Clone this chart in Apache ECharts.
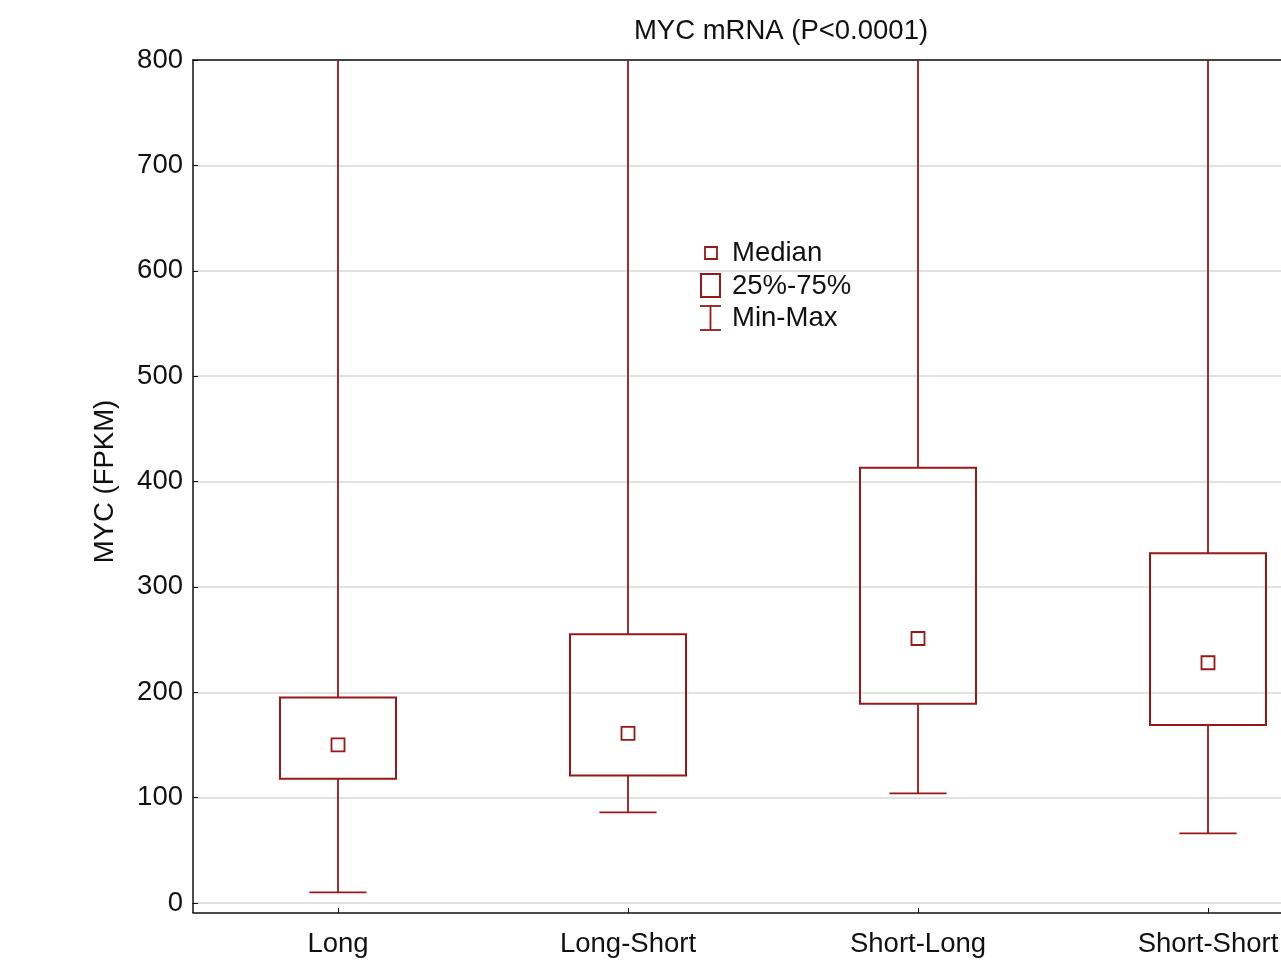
<!DOCTYPE html>
<html><head><meta charset="utf-8">
<script src="https://cdn.jsdelivr.net/npm/echarts@6/dist/echarts.min.js"></script>
<style>html,body{margin:0;padding:0;background:#fff}#c{width:1281px;height:960px}</style>
</head><body><div id="c"></div>
<script>
const categories = ['Long', 'Long-Short', 'Short-Long', 'Short-Short'];
const minValues = [10, 86, 104, 66];
const q1Values = [118, 121, 189, 169];
const medianValues = [150, 161, 251, 228];
const q3Values = [195, 255, 413, 332];
const maxValues = [1000, 1000, 1000, 1000]; // beyond the 800 axis top (clipped)
const yTicks = [0, 100, 200, 300, 400, 500, 600, 700, 800];

const RED = '#981818';
const FONT = 'Liberation Sans, Arial, sans-serif';
const FS = 27.5;

const boxData = categories.map((c, i) => [i, minValues[i], q1Values[i], medianValues[i], q3Values[i], maxValues[i]]);

const chart = echarts.init(document.getElementById('c'));
chart.setOption({
  backgroundColor: '#fff',
  animation: false,
  title: {
    text: 'MYC mRNA (P<0.0001)', left: 776, top: 12, textAlign: 'center',
    textStyle: { fontFamily: FONT, fontSize: FS, fontWeight: 'normal', color: '#111' }
  },
  grid: { left: 193, top: 60, right: -72, bottom: 57, outerBoundsMode: 'none', containLabel: false },
  xAxis: [{
    type: 'category', data: categories, offset: 10,
    axisLine: { onZero: false, lineStyle: { color: '#111', width: 1.5 } },
    axisTick: { show: true, inside: true, alignWithLabel: true, length: 5, lineStyle: { color: '#111' } },
    axisLabel: { fontFamily: FONT, fontSize: FS, color: '#111', margin: 17 },
    splitLine: { show: false }
  }, {
    type: 'category', data: categories, position: 'top',
    axisLine: { onZero: false, lineStyle: { color: '#111', width: 1.5 } },
    axisTick: { show: false }, axisLabel: { show: false }
  }],
  yAxis: {
    type: 'value', min: 0, max: 800, interval: 100,
    name: 'MYC (FPKM)', nameLocation: 'middle', nameGap: 74, nameRotate: 90,
    nameTextStyle: { fontFamily: FONT, fontSize: FS, color: '#111' },
    axisLine: { show: true, lineStyle: { color: '#111', width: 1.5 } },
    axisTick: { show: true, inside: true, length: 5, lineStyle: { color: '#111' } },
    axisLabel: { fontFamily: FONT, fontSize: FS, color: '#111', margin: 10,
      formatter: v => yTicks.indexOf(v) >= 0 ? String(v) : '' },
    splitLine: { show: true, lineStyle: { color: '#d9d9d9', width: 1.5 } }
  },
  series: [{
    type: 'custom',
    data: boxData,
    z: 3,
    renderItem: function (params, api) {
      const x = api.value(0);
      const top = params.coordSys.y;
      const pMin = api.coord([x, api.value(1)]);
      const pQ1 = api.coord([x, api.value(2)]);
      const pQ3 = api.coord([x, api.value(4)]);
      const pMax = api.coord([x, api.value(5)]);
      const band = api.size([1, 0])[0];
      const bw = band * 0.4, cw = band * 0.197;
      const cx = pMin[0];
      const yMax = Math.max(pMax[1], top);
      const ls = { stroke: RED, lineWidth: 1.8, fill: null };
      return {
        type: 'group',
        children: [
          { type: 'line', shape: { x1: cx, y1: yMax, x2: cx, y2: pQ3[1] }, style: ls },
          { type: 'line', shape: { x1: cx, y1: pQ1[1], x2: cx, y2: pMin[1] }, style: ls },
          { type: 'line', shape: { x1: cx - cw / 2, y1: pMin[1], x2: cx + cw / 2, y2: pMin[1] }, style: ls },
          { type: 'rect', shape: { x: cx - bw / 2, y: pQ3[1], width: bw, height: pQ1[1] - pQ3[1] },
            style: { stroke: RED, lineWidth: 2, fill: 'rgba(0,0,0,0)' } }
        ]
      };
    }
  }, {
    type: 'scatter',
    data: categories.map((c, i) => [i, medianValues[i]]),
    symbol: 'rect', symbolSize: 13, z: 4,
    itemStyle: { color: '#fff', borderColor: RED, borderWidth: 1.8, opacity: 1 }
  }],
  graphic: [
    { type: 'line', shape: { x1: 193, y1: 903, x2: 193, y2: 913 }, style: { stroke: '#111', lineWidth: 1.5 } },
    { type: 'rect', shape: { x: 705, y: 247, width: 12, height: 12 }, style: { stroke: RED, lineWidth: 1.8, fill: '#fff' } },
    { type: 'rect', shape: { x: 701, y: 274, width: 19, height: 23 }, style: { stroke: RED, lineWidth: 2, fill: '#fff' } },
    { type: 'line', shape: { x1: 700, y1: 306, x2: 721, y2: 306 }, style: { stroke: RED, lineWidth: 1.8 } },
    { type: 'line', shape: { x1: 710.5, y1: 306, x2: 710.5, y2: 330 }, style: { stroke: RED, lineWidth: 1.8 } },
    { type: 'line', shape: { x1: 700, y1: 330, x2: 721, y2: 330 }, style: { stroke: RED, lineWidth: 1.8 } },
    { type: 'text', left: 732, top: 239, style: { text: 'Median', font: FS + 'px ' + FONT, fill: '#111' } },
    { type: 'text', left: 732, top: 272, style: { text: '25%-75%', font: FS + 'px ' + FONT, fill: '#111' } },
    { type: 'text', left: 732, top: 304, style: { text: 'Min-Max', font: FS + 'px ' + FONT, fill: '#111' } }
  ]
});
</script></body></html>
